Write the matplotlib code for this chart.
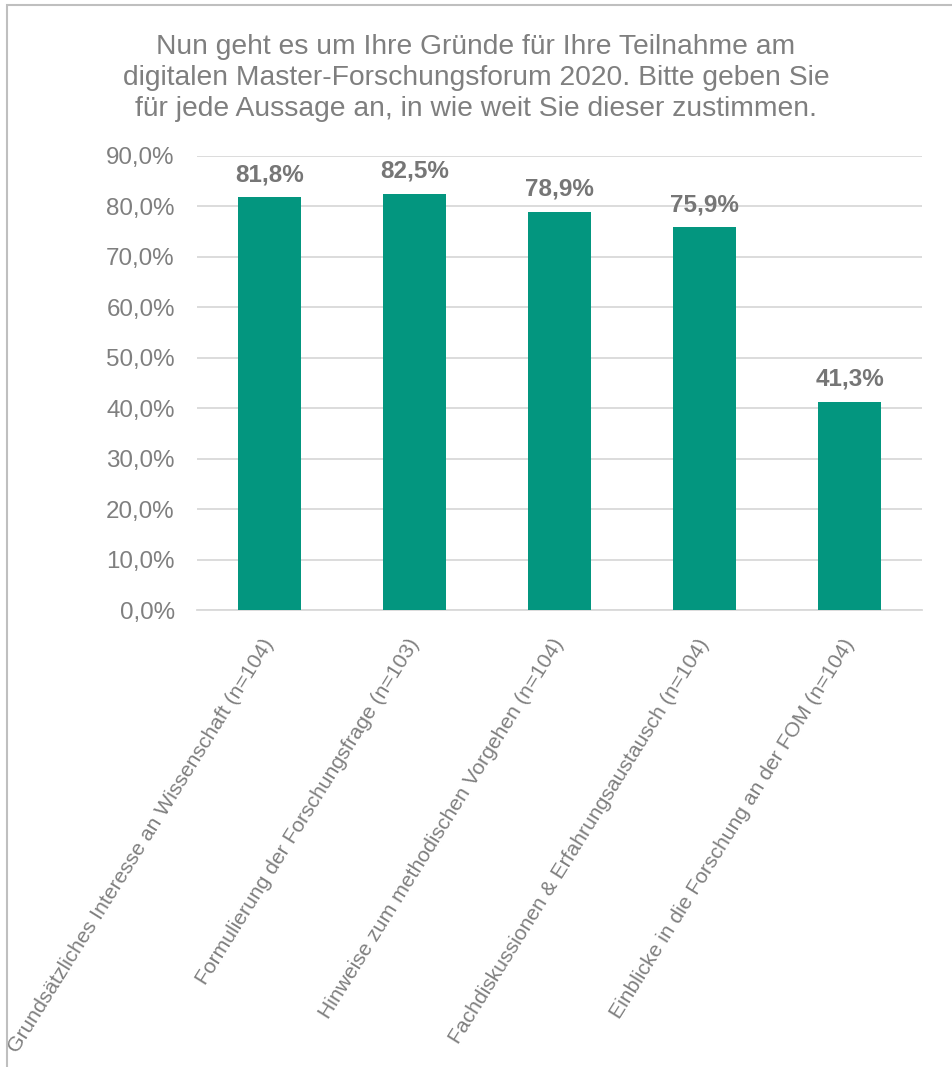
import matplotlib.pyplot as plt
from matplotlib.patches import Rectangle
from matplotlib.ticker import FuncFormatter

# Daten aus der Umfrage
categories = [
    "Grundsätzliches Interesse an Wissenschaft (n=104)",
    "Formulierung der Forschungsfrage (n=103)",
    "Hinweise zum methodischen Vorgehen (n=104)",
    "Fachdiskussionen & Erfahrungsaustausch (n=104)",
    "Einblicke in die Forschung an der FOM (n=104)",
]
values = [81.8, 82.5, 78.9, 75.9, 41.3]
y_ticks = [0, 10, 20, 30, 40, 50, 60, 70, 80, 90]

title = ("Nun geht es um Ihre Gründe für Ihre Teilnahme am\n"
         "digitalen Master-Forschungsforum 2020. Bitte geben Sie\n"
         "für jede Aussage an, in wie weit Sie dieser zustimmen.")

plt.rcParams['font.family'] = ['Liberation Sans', 'DejaVu Sans']
grey = "#7F7F7F"
teal = "#03967F"

fig = plt.figure(figsize=(9.52, 10.67), dpi=100)
ax = fig.add_axes([0.207, 0.4283, 0.7616, 0.4255])

x = list(range(len(categories)))
ax.bar(x, values, width=0.43, color=teal, zorder=3)

for xi, v in zip(x, values):
    ax.text(xi, v + 2.2, f"{v:.1f}%".replace(".", ","), ha="center", va="bottom",
            fontsize=17.5, fontweight="bold", color="#767676")

ax.set_xlim(-0.5, len(categories) - 0.5)
ax.set_ylim(0, 90)
ax.set_yticks(y_ticks)
ax.yaxis.set_major_formatter(FuncFormatter(lambda v, p: f"{v:.1f}%".replace(".", ",")))
ax.grid(axis="y", color="#D9D9D9", linewidth=1.3, zorder=0)
for s in ["top", "right", "left"]:
    ax.spines[s].set_visible(False)
ax.spines["bottom"].set_color("#D9D9D9")
ax.spines["bottom"].set_linewidth(1.3)
ax.tick_params(length=0)
ax.tick_params(axis="y", labelsize=17.4, labelcolor=grey, pad=16)

ax.set_xticks(x)
ax.set_xticklabels(categories, rotation=58, ha="right", va="center",
                   rotation_mode="anchor", fontsize=15.2, color=grey)
ax.tick_params(axis="x", pad=22)

fig.text(0.5, 0.968, title, ha="center", va="top", fontsize=20.3, color=grey,
         linespacing=1.25)

# Rahmen um das Diagramm
fig.patches.append(Rectangle((0.007, -0.1), 1.2, 1.095, transform=fig.transFigure,
                             fill=False, edgecolor="#BFBFBF", linewidth=1.5))

fig.savefig("out.png", dpi=100)
